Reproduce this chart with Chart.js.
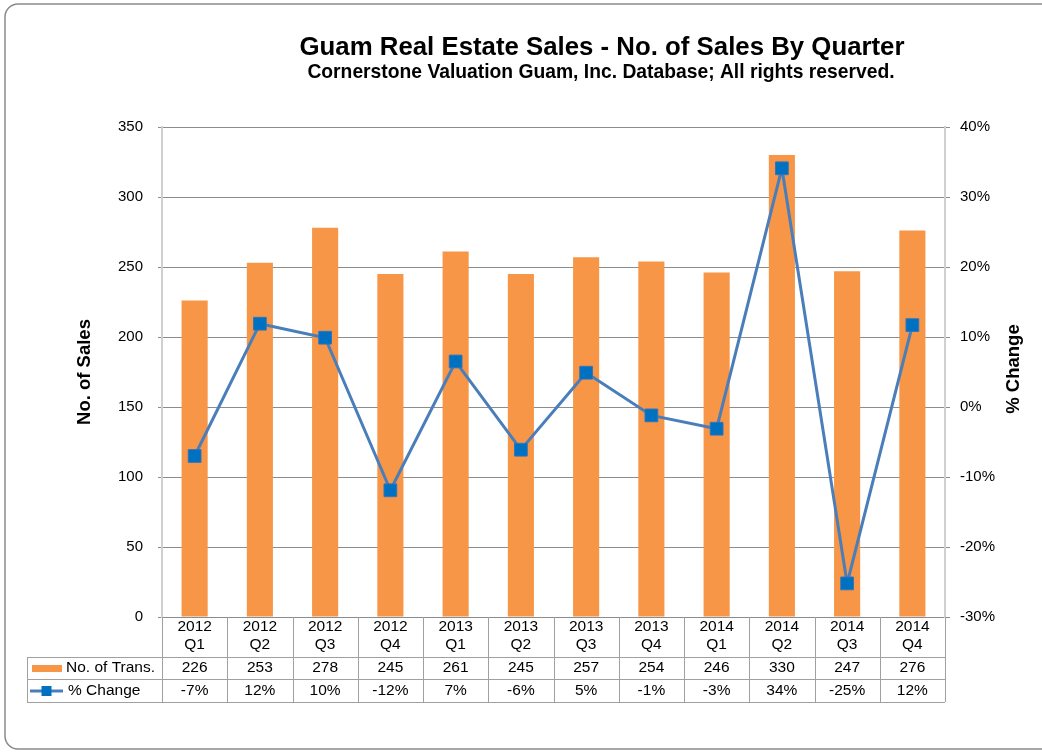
<!DOCTYPE html>
<html>
<head>
<meta charset="utf-8">
<script src="https://cdn.jsdelivr.net/npm/chart.js@4"></script>
<style>
  html, body { margin: 0; padding: 0; background: #fff; }
  #wrap { width: 1042px; height: 753px; }
</style>
</head>
<body>
<div id="wrap"><canvas id="grafico" width="1042" height="753"></canvas></div>
<script>
const categories = [
  ["2012", "Q1"], ["2012", "Q2"], ["2012", "Q3"], ["2012", "Q4"],
  ["2013", "Q1"], ["2013", "Q2"], ["2013", "Q3"], ["2013", "Q4"],
  ["2014", "Q1"], ["2014", "Q2"], ["2014", "Q3"], ["2014", "Q4"]
];
const salesCount = [226, 253, 278, 245, 261, 245, 257, 254, 246, 330, 247, 276];
const pctChange = [-7.0, 11.9, 9.9, -11.9, 6.5, -6.1, 4.9, -1.2, -3.1, 34.1, -25.2, 11.7];
const pctLabels = ["-7%", "12%", "10%", "-12%", "7%", "-6%", "5%", "-1%", "-3%", "34%", "-25%", "12%"];

const titleText = "Guam Real Estate Sales - No. of Sales By Quarter";
const subtitleText = "Cornerstone Valuation Guam, Inc. Database; All rights reserved.";
const FONT = "'Liberation Sans', Arial, sans-serif";

// marco, titulos y tabla de datos al estilo Excel
const tablaPlugin = {
  id: "tabla",
  beforeDraw(chart) {
    const ctx = chart.ctx;
    ctx.save();
    ctx.strokeStyle = "#8A8A8A";
    ctx.lineWidth = 1.5;
    ctx.beginPath();
    ctx.roundRect(5, 4, 1070, 745, 13);
    ctx.stroke();
    ctx.restore();
  },
  afterDraw(chart) {
    const ctx = chart.ctx;
    const area = chart.chartArea;
    const x = chart.scales.x;
    const w = (area.right - area.left) / categories.length;
    ctx.save();

    ctx.fillStyle = "#000";
    ctx.textAlign = "center";
    ctx.textBaseline = "alphabetic";
    ctx.font = "bold 25.8px " + FONT;
    ctx.fillText(titleText, 602, 55);
    ctx.font = "bold 19.3px " + FONT;
    ctx.fillText(subtitleText, 601, 78);

    // titulo eje derecho (leido de abajo hacia arriba)
    ctx.save();
    ctx.translate(1014, 369);
    ctx.rotate(-Math.PI / 2);
    ctx.textBaseline = "middle";
    ctx.font = "bold 18.5px " + FONT;
    ctx.fillText("% Change", 0, 0);
    ctx.restore();

    // lineas de la tabla
    const rowTop = area.bottom, row1 = 657, row2 = 679, row3 = 702, legLeft = 27;
    ctx.strokeStyle = "#A0A0A0";
    ctx.lineWidth = 1;
    ctx.beginPath();
    for (let i = 0; i <= categories.length; i++) {
      const px = Math.round(area.left + i * w) + 0.5;
      ctx.moveTo(px, rowTop);
      ctx.lineTo(px, row3);
    }
    [row1, row2, row3].forEach(y => {
      ctx.moveTo(legLeft, y + 0.5);
      ctx.lineTo(area.right, y + 0.5);
    });
    ctx.moveTo(legLeft + 0.5, row1);
    ctx.lineTo(legLeft + 0.5, row3);
    ctx.stroke();

    // textos de la tabla
    ctx.fillStyle = "#000";
    ctx.font = "15.5px " + FONT;
    ctx.textBaseline = "middle";
    ctx.textAlign = "center";
    categories.forEach((c, i) => {
      const cx = x.getPixelForValue(i);
      ctx.fillText(c[0], cx, 627);
      ctx.fillText(c[1], cx, 645);
      ctx.fillText(String(salesCount[i]), cx, 668);
      ctx.fillText(pctLabels[i], cx, 691);
    });

    // leyenda
    ctx.textAlign = "left";
    ctx.fillStyle = "#F79646";
    ctx.fillRect(32, 665, 30, 7);
    ctx.fillStyle = "#000";
    ctx.fillText("No. of Trans.", 66, 668);
    ctx.strokeStyle = "#4A7EBB";
    ctx.lineWidth = 3;
    ctx.beginPath();
    ctx.moveTo(30, 691);
    ctx.lineTo(63, 691);
    ctx.stroke();
    ctx.fillStyle = "#0070C0";
    ctx.fillRect(41.5, 686, 10, 10);
    ctx.fillStyle = "#000";
    ctx.fillText("% Change", 68, 691);
    ctx.restore();
  }
};

const ctx = document.getElementById("grafico").getContext("2d");
new Chart(ctx, {
  type: "bar",
  data: {
    labels: categories,
    datasets: [{
      type: "line",
      label: "% Change",
      data: pctChange,
      yAxisID: "y1",
      order: 1,
      borderColor: "#4A7EBB",
      borderWidth: 3,
      tension: 0,
      pointStyle: "rect",
      pointRadius: 9,
      pointBackgroundColor: "#0070C0",
      pointBorderColor: "#3274BE",
      pointBorderWidth: 1
    }, {
      label: "No. of Trans.",
      data: salesCount,
      yAxisID: "y",
      order: 2,
      backgroundColor: "#F79646",
      barPercentage: 0.40,
      categoryPercentage: 1.0
    }]
  },
  options: {
    responsive: false,
    animation: false,
    layout: { padding: { top: 127, bottom: 136, left: 0, right: 0 } },
    plugins: {
      legend: { display: false },
      tooltip: { enabled: false }
    },
    scales: {
      x: { display: false },
      y: {
        position: "left",
        min: 0,
        max: 350,
        ticks: { stepSize: 50, padding: 15, color: "#000", font: { size: 15, family: FONT } },
        grid: { color: "#8C8C8C", tickColor: "#8C8C8C", tickLength: 4 },
        border: { color: "#D0D0D0", width: 2 },
        title: {
          display: true,
          text: "No. of Sales",
          color: "#000",
          font: { size: 18.5, weight: "bold", family: FONT },
          padding: { top: 74, bottom: 0 }
        },
        afterFit(scale) { scale.width = 162; }
      },
      y1: {
        position: "right",
        min: -30,
        max: 40,
        ticks: {
          stepSize: 10, padding: 10, color: "#000",
          font: { size: 15, family: FONT },
          callback: v => v + "%"
        },
        grid: { drawOnChartArea: false, tickColor: "#8C8C8C", tickLength: 5 },
        border: { color: "#D0D0D0", width: 2 },
        afterFit(scale) { scale.width = 97; }
      }
    }
  },
  plugins: [tablaPlugin]
});
</script>
</body>
</html>
